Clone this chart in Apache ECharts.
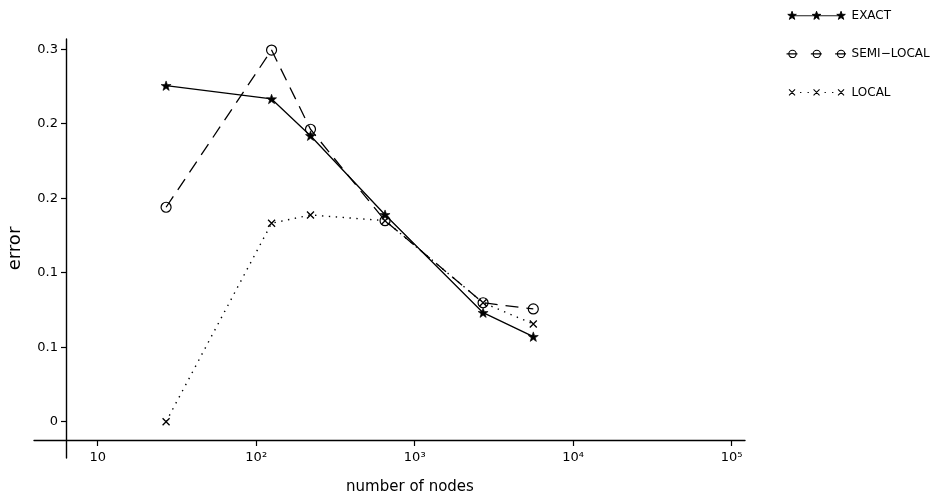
<!DOCTYPE html>
<html>
<head>
<meta charset="utf-8">
<script src="https://cdn.jsdelivr.net/npm/echarts@6/dist/echarts.min.js"></script>
<style>
html,body{margin:0;padding:0;background:#fff;}
#chart{width:935px;height:498px;}
</style>
</head>
<body>
<div id="chart"></div>
<script>
// ---- data ----
const nodes = [27, 125, 220, 650, 2700, 5600];
const exactErr = [0.2706, 0.2599, 0.2303, 0.1667, 0.0878, 0.0685];
const semiLocalErr = [0.1727, 0.2993, 0.2355, 0.1619, 0.0958, 0.0908];
const localErr = [0.0, 0.1598, 0.1665, 0.1619, 0.0958, 0.0787];
const seriesNames = ['EXACT', 'SEMI\u2212LOCAL', 'LOCAL'];
const xTickValues = [10, 100, 1000, 10000, 100000];
const xTickLabels = ['10', '10\u00B2', '10\u00B3', '10\u2074', '10\u2075'];
const yTickValues = [0, 0.06, 0.12, 0.18, 0.24, 0.30];
const yTickLabels = ['0', '0.1', '0.1', '0.2', '0.2', '0.3'];
const xAxisTitle = 'number of nodes';
const yAxisTitle = 'error';

function pairs(xs, ys) { return xs.map((x, i) => [x, ys[i]]); }

// ---- symbols ----
const STAR = 'path://M0,-10 L2.38,-3.27 9.51,-3.09 3.85,1.25 5.88,8.09 0,4.05 -5.88,8.09 -3.85,1.25 -9.51,-3.09 -2.38,-3.27Z';
const CROSS = 'path://M0,0 L10,10 M10,0 L0,10';

// legend icons (60 x 12 box)
const centers = [5.5, 30, 54.5];
function starPts(cx, cy, ro, ri) {
  let s = '';
  for (let k = 0; k < 10; k++) {
    const r = k % 2 === 0 ? ro : ri;
    const a = (-90 + k * 36) * Math.PI / 180;
    s += (k === 0 ? 'M' : 'L') + (cx + r * Math.cos(a)).toFixed(2) + ' ' + (cy + r * Math.sin(a)).toFixed(2) + ' ';
  }
  return s + 'Z ';
}
let exactIcon = 'path://M0 0 M60 12 M5.5 6.3 L54.5 6.3 ';
centers.forEach(c => { exactIcon += starPts(c, 6.3, 4.5, 1.8); });
let semiIcon = 'path://M0 0 M60 12 ';
centers.forEach(c => {
  semiIcon += 'M' + (c - 6) + ' 6 L' + (c + 5) + ' 6 ';
  semiIcon += 'M' + (c + 3.7) + ' 6 A3.7 3.7 0 1 1 ' + (c - 3.7) + ' 6 A3.7 3.7 0 1 1 ' + (c + 3.7) + ' 6 ';
});
let localIcon = 'path://M0 0 M60 12 ';
centers.forEach((c, i) => {
  localIcon += 'M' + (c - 3) + ' 3 L' + (c + 3) + ' 9 M' + (c + 3) + ' 3 L' + (c - 3) + ' 9 ';
  if (i < 2) {
    [8, 15.5].forEach(d => { localIcon += 'M' + (c + d) + ' 6 L' + (c + d + 1.3) + ' 6 '; });
  }
});

const FONT = 'DejaVu Sans';
const chart = echarts.init(document.getElementById('chart'), null, { renderer: 'canvas' });

const option = {
  backgroundColor: '#fff',
  animation: false,
  textStyle: { fontFamily: FONT, color: '#000' },
  grid: { left: 34, right: 190, top: 39, bottom: 40, containLabel: false, outerBoundsMode: 'none' },
  legend: {
    orient: 'vertical',
    left: 786,
    top: 9,
    padding: 0,
    itemWidth: 60,
    itemHeight: 12,
    itemGap: 25.5,
    selectedMode: false,
    textStyle: { fontFamily: FONT, fontSize: 12, color: '#000', lineHeight: 12 },
    data: [
      { name: seriesNames[0], icon: exactIcon, itemStyle: { color: '#000', borderColor: '#000', borderWidth: 0.9 } },
      { name: seriesNames[1], icon: semiIcon, itemStyle: { color: 'rgba(0,0,0,0)', borderColor: '#000', borderWidth: 1.1 } },
      { name: seriesNames[2], icon: localIcon, itemStyle: { color: 'rgba(0,0,0,0)', borderColor: '#000', borderWidth: 1.1 } }
    ]
  },
  xAxis: {
    type: 'log',
    logBase: 10,
    min: 3.963,
    max: 121300,
    offset: -18,
    name: xAxisTitle,
    nameLocation: 'middle',
    nameGap: 40,
    nameMoveOverlap: false,
    nameTextStyle: { fontFamily: FONT, fontSize: 15, color: '#000', padding: [0, 0, 0, 41] },
    axisLine: { show: true, onZero: false, lineStyle: { color: '#000', width: 1.4 } },
    axisTick: { show: true, inside: false, length: 6, lineStyle: { color: '#000', width: 1.2 }, customValues: xTickValues },
    axisLabel: {
      show: true, margin: 11, fontFamily: FONT, fontSize: 13, color: '#000',
      customValues: xTickValues,
      formatter: v => { const i = xTickValues.findIndex(t => Math.abs(Math.log10(t) - Math.log10(v)) < 1e-6); return i >= 0 ? xTickLabels[i] : ''; }
    },
    splitLine: { show: false },
    minorTick: { show: false }
  },
  yAxis: {
    type: 'value',
    min: -0.02923,
    max: 0.3082,
    offset: -32,
    name: yAxisTitle,
    nameLocation: 'middle',
    nameGap: 42,
    nameMoveOverlap: false,
    nameRotate: 90,
    nameTextStyle: { fontFamily: FONT, fontSize: 18, color: '#000' },
    axisLine: { show: true, onZero: false, lineStyle: { color: '#000', width: 1.4 } },
    axisTick: { show: true, inside: false, length: 5, lineStyle: { color: '#000', width: 1.2 }, customValues: yTickValues },
    axisLabel: {
      show: true, margin: 8, fontFamily: FONT, fontSize: 13, color: '#000',
      customValues: yTickValues,
      formatter: v => { const i = yTickValues.findIndex(t => Math.abs(t - v) < 1e-6); return i >= 0 ? yTickLabels[i] : ''; }
    },
    splitLine: { show: false }
  },
  series: [
    {
      name: seriesNames[0], type: 'line', data: pairs(nodes, exactErr),
      symbol: STAR, symbolSize: 10, symbolKeepAspect: true,
      itemStyle: { color: '#000', borderColor: '#000', borderWidth: 0.6 },
      lineStyle: { color: '#000', width: 1.3, type: 'solid' },
      z: 3
    },
    {
      name: seriesNames[1], type: 'line', data: pairs(nodes, semiLocalErr),
      symbol: 'circle', symbolSize: 10,
      itemStyle: { color: 'rgba(0,0,0,0)', borderColor: '#000', borderWidth: 1.2 },
      lineStyle: { color: '#000', width: 1.3, type: [13, 8] },
      z: 4
    },
    {
      name: seriesNames[2], type: 'line', data: pairs(nodes, localErr),
      symbol: CROSS, symbolSize: 7,
      itemStyle: { color: 'rgba(0,0,0,0)', borderColor: '#000', borderWidth: 1.3 },
      lineStyle: { color: '#000', width: 1.4, type: [1.4, 5.5] },
      z: 5
    }
  ]
};
chart.setOption(option);
</script>
</body>
</html>
